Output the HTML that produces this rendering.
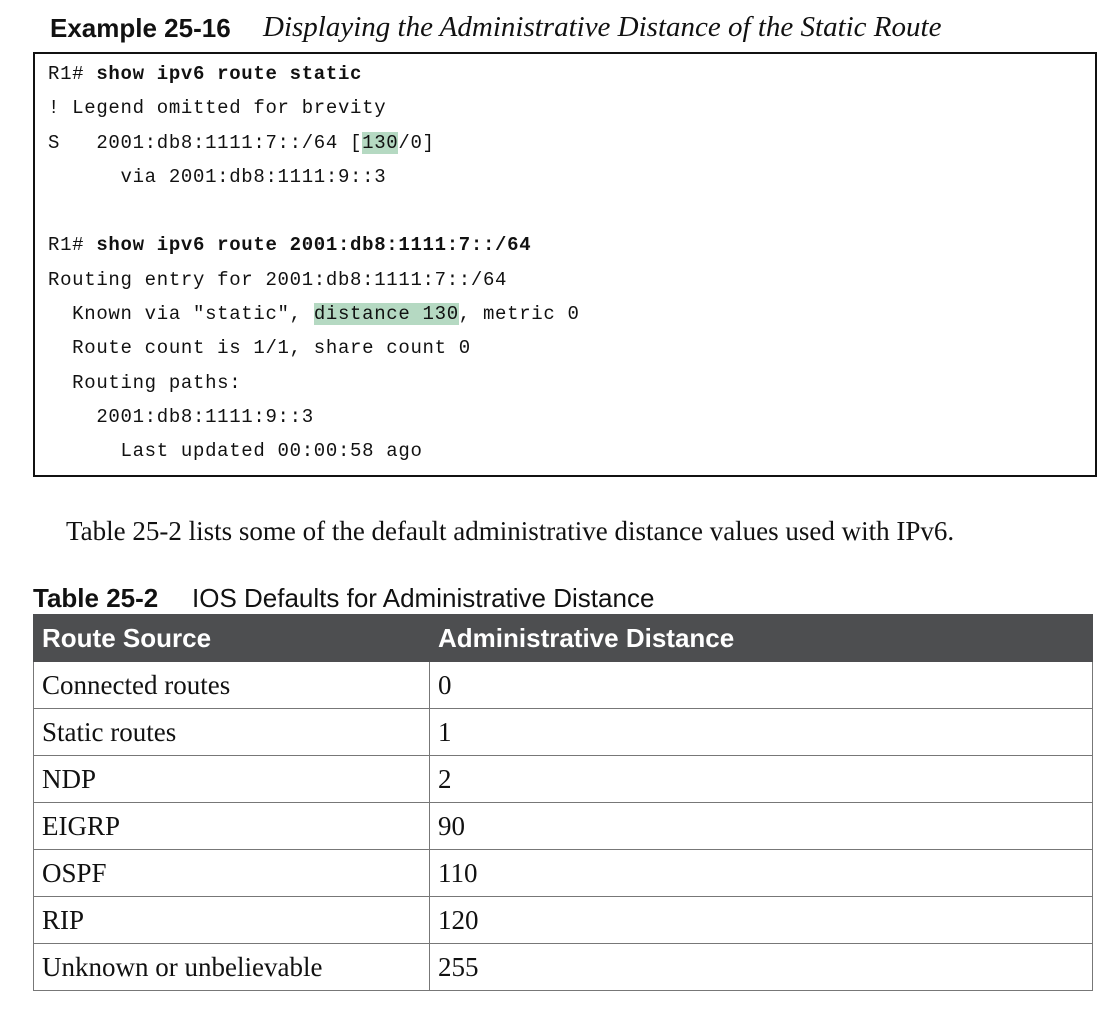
<!DOCTYPE html>
<html><head><meta charset="utf-8"><style>
body{margin:0;width:1113px;height:1010px;background:#fff;position:relative;overflow:hidden;color:#111}
.a{position:absolute;white-space:pre}
.sans{font-family:"Liberation Sans",sans-serif}
.serif{font-family:"Liberation Serif",serif}
.mono{font-family:"Liberation Mono",monospace;font-size:19px;letter-spacing:0.68px;line-height:22px}
.hl{background:#b5d9c2}
table{position:absolute;left:33px;top:614px;width:1060px;border-collapse:collapse;font-family:"Liberation Serif",serif;font-size:27px}
td{border:1px solid #777;height:46px;padding:0 0 0 8px;vertical-align:middle}
th{background:#4d4e50;color:#fff;font-family:"Liberation Sans",sans-serif;font-weight:bold;font-size:26px;text-align:left;height:46px;padding:0 0 0 8px;border:1px solid #4d4e50}
</style></head><body>
<div class="a sans" style="left:50px;top:13px;font-size:26px;font-weight:bold">Example 25-16</div>
<div class="a serif" style="left:263px;top:11px;font-size:29px;font-style:italic">Displaying the Administrative Distance of the Static Route</div>
<div class="a" style="left:33px;top:52px;width:1060px;height:421px;border:2px solid #111"></div>
<div class="a mono" style="left:48px;top:63px">R1# <b>show ipv6 route static</b></div>
<div class="a mono" style="left:48px;top:97px">! Legend omitted for brevity</div>
<div class="a mono" style="left:48px;top:132px">S   2001:db8:1111:7::/64 [<span class="hl">130</span>/0]</div>
<div class="a mono" style="left:48px;top:166px">      via 2001:db8:1111:9::3</div>
<div class="a mono" style="left:48px;top:234px">R1# <b>show ipv6 route 2001:db8:1111:7::/64</b></div>
<div class="a mono" style="left:48px;top:269px">Routing entry for 2001:db8:1111:7::/64</div>
<div class="a mono" style="left:48px;top:303px">  Known via "static", <span class="hl">distance 130</span>, metric 0</div>
<div class="a mono" style="left:48px;top:337px">  Route count is 1/1, share count 0</div>
<div class="a mono" style="left:48px;top:372px">  Routing paths:</div>
<div class="a mono" style="left:48px;top:406px">    2001:db8:1111:9::3</div>
<div class="a mono" style="left:48px;top:440px">      Last updated 00:00:58 ago</div>
<div class="a serif" style="left:66px;top:516px;font-size:27px">Table 25-2 lists some of the default administrative distance values used with IPv6.</div>
<div class="a sans" style="left:33px;top:583px;font-size:26px"><b>Table 25-2</b></div>
<div class="a sans" style="left:192px;top:583px;font-size:26px">IOS Defaults for Administrative Distance</div>
<table>
<tr><th style="width:387px">Route Source</th><th>Administrative Distance</th></tr>
<tr><td>Connected routes</td><td>0</td></tr>
<tr><td>Static routes</td><td>1</td></tr>
<tr><td>NDP</td><td>2</td></tr>
<tr><td>EIGRP</td><td>90</td></tr>
<tr><td>OSPF</td><td>110</td></tr>
<tr><td>RIP</td><td>120</td></tr>
<tr><td>Unknown or unbelievable</td><td>255</td></tr>
</table>
</body></html>
